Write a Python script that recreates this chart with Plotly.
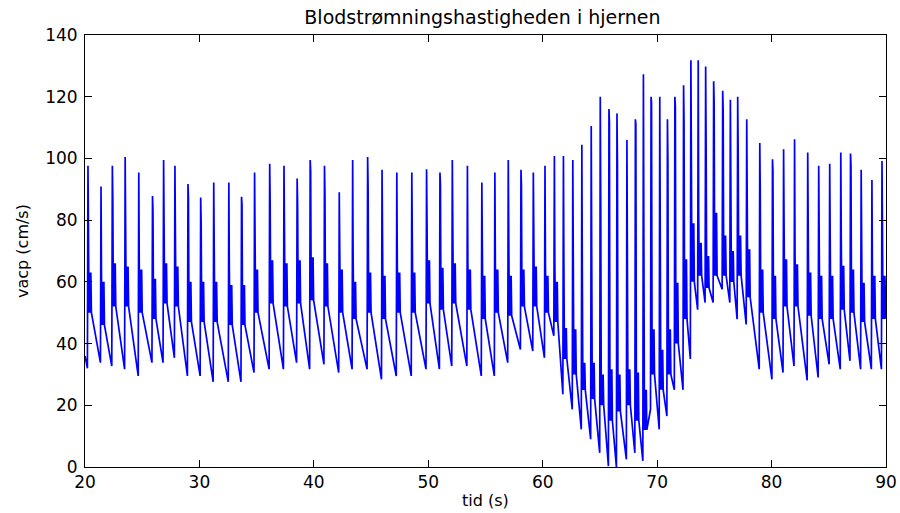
import plotly.graph_objects as go

# Per-beat values (time of systolic peak in s, velocities in cm/s)
peak_t = [20.26, 21.40, 22.39, 23.51, 24.70, 25.90, 26.87, 27.86, 29.00, 30.11,
          31.25, 32.57, 33.68, 34.82, 36.14, 37.39, 38.54, 39.68, 40.93, 42.22,
          43.39, 44.70, 45.96, 47.25, 48.56, 49.85, 51.02, 52.10, 53.42, 54.68,
          55.82, 56.99, 58.10, 59.18, 60.20, 61.02, 61.81, 62.63, 63.42, 64.24,
          65.03, 65.79, 66.49, 67.36, 68.10, 68.80, 69.47, 70.23, 70.90, 71.55,
          72.31, 72.95, 73.59, 74.24, 74.94, 75.73, 76.40, 77.04, 77.83, 78.97,
          80.08, 81.05, 82.01, 83.16, 84.12, 85.08, 86.05, 86.90, 87.83, 88.77,
          89.65]
peak_v = [97.6, 90.9, 97.6, 100.5, 95.4, 87.8, 99.5, 97.6, 91.7, 87.3,
          92.2, 92.2, 87.6, 95.4, 98.3, 97.6, 93.5, 99.5, 97.6, 89.0,
          99.5, 100.5, 96.3, 95.4, 95.4, 96.5, 95.4, 99.5, 97.6, 92.2,
          95.4, 99.5, 96.3, 95.4, 97.6, 100.8, 100.8, 99.5, 104.4, 110.5,
          120.0, 116.0, 114.6, 106.0, 112.7, 127.3, 120.0, 120.0, 112.7, 120.0,
          123.7, 131.8, 131.8, 129.8, 125.0, 121.9, 119.0, 120.0, 112.7, 105.0,
          99.7, 103.0, 106.2, 101.9, 97.6, 98.3, 101.9, 101.6, 96.3, 93.0,
          99.2]
trough_v = [32.0, 33.8, 32.7, 31.7, 29.5, 33.8, 33.8, 35.4, 29.5, 29.5,
            27.6, 27.6, 27.6, 30.6, 31.7, 31.7, 33.8, 31.7, 33.3, 30.6,
            31.7, 31.7, 28.4, 29.5, 29.5, 31.7, 31.7, 32.7, 32.7, 29.5,
            29.5, 33.8, 38.1, 37.6, 35.4, 42.5, 23.6, 18.7, 12.2, 9.0,
            4.6, 0.3, 0.0, 2.5, 4.6, 2.0, 18.7, 12.2, 16.5, 25.0,
            25.0, 35.0, 51.0, 53.3, 53.3, 57.6, 53.3, 47.9, 46.2, 31.7,
            28.4, 30.6, 32.7, 28.1, 29.0, 33.3, 31.7, 34.4, 31.7, 31.7,
            31.7]
step_v = [70, 62, 87, 81, 66, 83, 86, 75, 87, 79,
          67, 66, 85, 82, 86, 68, 85, 96, 88, 73,
          69, 90.5, 67, 66, 70, 79, 91.6, 87, 66, 64,
          66, 73, 91.6, 68, 65, 66, 66, 75, 63.5, 64,
          86.8, 111.6, 98.6, 67, 111, 73.8, 118, 60.8, 99.7, 117,
          112, 87.3, 82.4, 104, 118, 115.4, 78.1, 103, 91.6, 89.5,
          96, 77, 69, 66, 75, 64, 74.3, 97.6, 80.3, 64,
          64]
notch_v = [50, 46, 52, 52, 50, 48, 53, 52, 47, 47,
           47, 46, 46, 50, 53, 52, 53, 54, 52, 50,
           48, 50, 48, 50, 50, 53, 51, 53, 51, 48,
           50, 49, 52, 52, 50, 47, 35, 30, 25, 22,
           20, 15, 18, 20, 15, 12, 30, 25, 30, 40,
           48, 60, 62, 58, 62, 62, 60, 62, 55, 50,
           48, 52, 52, 49, 48, 48, 51, 50, 47, 48,
           48]
wave_v = [63, 60, 66, 65, 64, 61, 66, 65, 60, 60,
          60, 59, 59, 64, 67, 66, 67, 68, 66, 64,
          60, 63, 62, 63, 63, 67, 64.6, 66, 64, 62,
          64, 62, 64, 65, 62, 60, 45, 44.6, 33.8, 33.8,
          30, 31.7, 30, 31.7, 30.6, 25, 44.6, 38, 44.6, 59.7,
          67.3, 79, 72.7, 68.4, 82.4, 75, 70, 75, 70.6, 64,
          62, 67.3, 65.7, 63, 62, 62, 65.2, 64, 59.7, 62,
          62]
start_pt = (20.0, 36.0)
end_pt = (90.0, 48.0)

x_ticks = [20, 30, 40, 50, 60, 70, 80, 90]
y_ticks = [0, 20, 40, 60, 80, 100, 120, 140]

# Build the polyline of each beat from the values above
xs = [start_pt[0]]
ys = [start_pt[1]]
for i in range(len(peak_t)):
    tp = peak_t[i]
    xs += [tp - 0.05, tp, tp + 0.04, tp + 0.09, tp + 0.14, tp + 0.19, tp + 0.25, tp + 0.30]
    ys += [trough_v[i], peak_v[i], step_v[i], notch_v[i], wave_v[i],
           notch_v[i], wave_v[i], notch_v[i]]
xs.append(end_pt[0])
ys.append(end_pt[1])

fig = go.Figure()
fig.add_trace(go.Scatter(x=xs, y=ys, mode="lines",
                         line=dict(color="#0000ff", width=1.7),
                         hoverinfo="skip", showlegend=False))

family = "DejaVu Sans, Liberation Sans, sans-serif"
font = dict(family=family, size=16, color="black")
tick_font = dict(family=family, size=17, color="black")

axis_common = dict(showline=True, linecolor="black", linewidth=1, mirror="ticks",
                   ticks="inside", ticklen=7, tickcolor="black", tickwidth=1,
                   showgrid=False, zeroline=False, tickfont=tick_font, automargin=False)

fig.update_layout(
    width=900, height=513, autosize=False,
    margin=dict(l=85, r=14, t=35, b=46, autoexpand=False),
    paper_bgcolor="white", plot_bgcolor="white",
    xaxis=dict(range=[20, 90], tickvals=x_ticks, **axis_common),
    yaxis=dict(range=[0, 140], tickvals=y_ticks, ticklabelstandoff=3, **axis_common),
    title=dict(text="Blodstrømningshastigheden i hjernen", x=0.536, xanchor="center",
               y=1 - 17 / 513, yanchor="middle", yref="container",
               font=dict(family=family, size=19, color="black")),
    annotations=[
        dict(text="tid (s)", xref="paper", yref="paper", x=0.4994, y=-0.0764,
             showarrow=False, xanchor="center", yanchor="middle", font=font),
        dict(text="vacp (cm/s)", xref="paper", yref="paper", x=-0.0787, y=0.5,
             showarrow=False, xanchor="center", yanchor="middle", textangle=-90, font=font),
    ],
)

fig.write_html("out.html")
